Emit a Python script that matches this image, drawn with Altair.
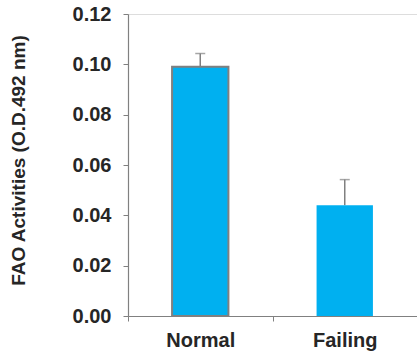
import altair as alt
import pandas as pd

groups = ["Normal", "Failing"]
values = [0.099, 0.044]
errors = [0.0053, 0.0102]

df = pd.DataFrame({"group": groups, "value": values, "err": errors})
df["top"] = df["value"] + df["err"]

FONT = "Liberation Sans"
GRAY = "#808080"

x = alt.X("group:N", sort=groups, title=None,
          scale=alt.Scale(paddingInner=0, paddingOuter=0),
          axis=alt.Axis(labelAngle=0, labelAlign="center", labelBaseline="top",
                        labelFont=FONT, labelFontSize=20, labelFontWeight="bold",
                        labelColor="#262626", labelPadding=9, domainColor=GRAY, tickColor=GRAY,
                        tickSize=5, tickBand="extent", domainWidth=1.2))
yaxis = alt.Axis(values=[0, 0.02, 0.04, 0.06, 0.08, 0.10, 0.12], format=".2f",
                 labelFont=FONT, labelFontSize=20, labelFontWeight="bold", labelColor="#262626",
                 labelPadding=12, domainColor=GRAY, tickColor=GRAY, tickSize=5, domainWidth=1.2,
                 grid=False, titleFont=FONT, titleFontSize=19, titleFontWeight="bold",
                 titleColor="#262626", titleX=-110, titleY=146, titleBaseline="middle",
                 titleAngle=-90, titleAlign="center")
yscale = alt.Scale(domain=[0, 0.12], nice=False)
TITLE = "FAO Activities (O.D.492 nm)"


def yenc(field):
    return alt.Y(field, title=TITLE, scale=yscale, axis=yaxis)


bars = alt.Chart(df).mark_bar(width={"band": 0.39}, color="#00B0F0", strokeWidth=2).encode(
    x=x, y=yenc("value:Q"),
    stroke=alt.condition(alt.datum.group == "Normal", alt.value(GRAY), alt.value("transparent")),
)
rules = alt.Chart(df).mark_rule(color=GRAY, strokeWidth=1.5).encode(
    x=x, y=yenc("value:Q"), y2="top:Q")
caps = alt.Chart(df).mark_tick(color=GRAY, thickness=1.5, size=10, orient="horizontal").encode(
    x=x, y=yenc("top:Q"))

chart = alt.layer(rules, bars, caps).properties(
    width=289, height=302,
    autosize=alt.AutoSizeParams(type="none"),
    padding={"left": 128, "top": 14, "right": 0, "bottom": 42},
).configure_view(stroke=None).configure(background="white")

chart.save("out.html", embed_options={"renderer": "svg", "actions": False})
